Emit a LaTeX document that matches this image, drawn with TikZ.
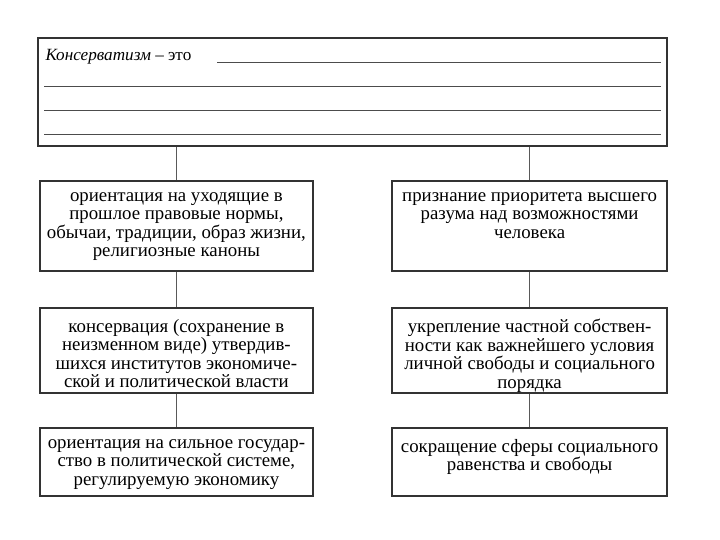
\documentclass[tikz,border=0pt]{standalone}
\usepackage{fontspec}
\setmainfont{Liberation Serif}
\usepackage{tikz}
\usetikzlibrary{positioning,calc}
\usepackage{xcolor}

\tikzset{
  frame/.style={draw=black!80,line width=1.1pt,fill=white,inner sep=0pt},
  txt/.style={anchor=north,align=center,inner sep=0pt,text=black,
    font=\fontsize{13.4}{13.1}\selectfont},
  link/.style={draw=black!65,line width=0.6pt},
  rule/.style={draw=black!70,line width=0.7pt}
}

\begin{document}
\begin{tikzpicture}
\useasboundingbox[fill=white] (0,0) rectangle (18,13.5);
% top box with blank lines
\node[frame,minimum width=15.725cm,minimum height=2.7cm] (def) at (8.8125,11.2) {};
\node[anchor=base west,inner sep=0pt,text=black,font=\fontsize{12.2}{13.8}\selectfont] (defword) at ($(def.north west)+(0.2,-0.58)$) {\textit{Консерватизм} -- это};
\draw[rule] ($(def.north west)+(4.5,-0.62)$) -- ($(def.north east)+(-0.18,-0.62)$);
\foreach \dy in {1.22,1.82,2.42}
  \draw[rule] ($(def.north west)+(0.18,-\dy)$) -- ($(def.north east)+(-0.18,-\dy)$);

% left column
\node[frame,minimum width=6.825cm,minimum height=2.25cm] (l1) at (4.41,7.85) {};
\node[txt] (l1t) at ($(l1.north)+(0,-0.3)$) {ориентация на уходящие в\\прошлое правовые нормы,\\обычаи, традиции, образ жизни,\\религиозные каноны};
\node[frame,minimum width=6.825cm,minimum height=2.125cm] (l2) at (4.41,4.7375) {};
\node[txt] (l2t) at ($(l2.north)+(0,-0.3)$) {консервация (сохранение в\\неизменном виде) утвердив-\\шихся институтов экономиче-\\ской и политической власти};
\node[frame,minimum width=6.825cm,minimum height=1.7cm] (l3) at (4.41,1.95) {};
\node[txt] (l3t) at ($(l3.north)+(0,-0.3)$) {ориентация на сильное государ-\\ство в политической системе,\\регулируемую экономику};

% right column
\node[frame,minimum width=6.875cm,minimum height=2.25cm] (r1) at (13.24,7.85) {};
\node[txt] (r1t) at ($(r1.north)+(0,-0.3)$) {признание приоритета высшего\\разума над возможностями\\человека};
\node[frame,minimum width=6.875cm,minimum height=2.125cm] (r2) at (13.24,4.7375) {};
\node[txt] (r2t) at ($(r2.north)+(0,-0.3)$) {укрепление частной собствен-\\ности как важнейшего условия\\личной свободы и социального\\порядка};
\node[frame,minimum width=6.875cm,minimum height=1.7cm] (r3) at (13.24,1.95) {};
\node[txt] (r3t) at ($(r3.north)+(0,-0.3)$) {сокращение сферы социального\\равенства и свободы};

% connectors
\draw[link] (def.south -| l1.north) -- (l1.north);
\draw[link] (def.south -| r1.north) -- (r1.north);
\draw[link] (l1) -- (l2);
\draw[link] (l2) -- (l3);
\draw[link] (r1) -- (r2);
\draw[link] (r2) -- (r3);
\end{tikzpicture}
\end{document}
